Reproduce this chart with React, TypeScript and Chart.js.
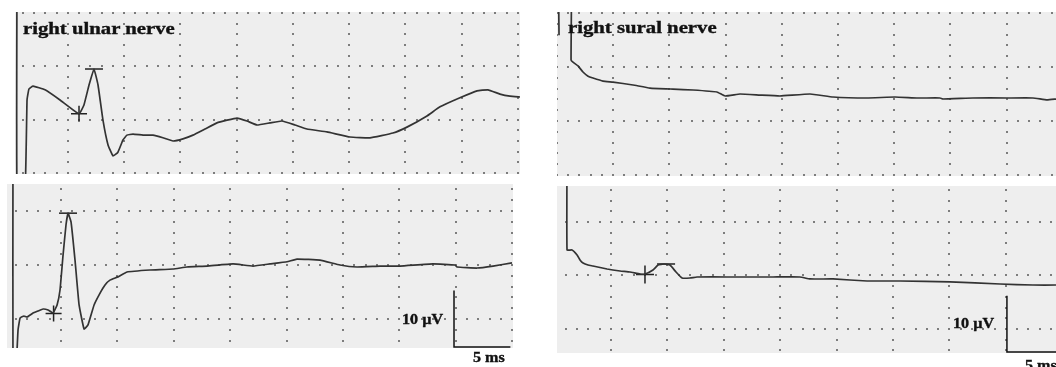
import React, { useEffect, useRef } from "react";
import { Chart, registerables } from "chart.js";

Chart.register(...registerables);

// ---- data (time in ms, amplitude in µV) ----
const ulnarTopTime = [0.47, 0.47, 1.18, 1.36, 1.53, 1.89, 2.96, 4.29, 5.98, 6.42, 6.87, 7.31, 7.67, 8.11, 8.56, 9.0, 9.44, 9.89, 10.24, 10.78, 11.67, 12.56, 13.44, 14.33, 15.22, 16.11, 17.18, 18.24, 19.13, 20.02, 20.91, 21.8, 22.96, 24.02, 25.18, 26.24, 28.02, 30.07, 31.84, 33.89, 35.13, 36.91, 38.07, 39.84, 41.36, 42.33, 43.4, 44.29, 45.18];
const ulnarTopAmp = [40, -3, -3, 13.7, 15.75, 16.3, 15.6, 13.7, 11.1, 12.75, 16.5, 19.5, 16.5, 9.9, 5.25, 3.2, 3.9, 6.2, 7.1, 7.3, 7.1, 7.1, 6.6, 6.0, 6.4, 7.1, 8.25, 9.4, 9.9, 10.3, 9.75, 9.0, 9.4, 9.75, 9.0, 8.25, 7.7, 6.75, 6.6, 7.5, 8.6, 10.7, 12.4, 14.1, 15.4, 15.6, 14.8, 14.4, 14.25];

const ulnarBottomTime = [0.74, 0.74, 1.01, 1.19, 1.37, 1.72, 1.99, 2.52, 2.96, 3.4, 3.85, 4.29, 4.65, 4.91, 5.18, 5.44, 5.62, 5.89, 6.24, 6.6, 7.04, 7.39, 7.93, 8.46, 8.9, 9.34, 10.05, 10.85, 12.89, 14.93, 16.17, 17.94, 20.25, 22.02, 23.53, 25.04, 25.92, 27.96, 29.73, 31.24, 33.28, 35.05, 37.98, 39.93, 40.11, 41.88, 43.3, 44.98];
const ulnarBottomAmp = [32, -9, -9, -2.0, 0.19, 0.56, 0.37, 1.11, 1.48, 1.85, 1.67, 1.11, 2.6, 5.37, 11.85, 17.4, 19.6, 17.96, 10.9, 2.6, -1.85, -1.1, 2.6, 4.8, 6.3, 7.2, 7.8, 8.7, 9.07, 9.26, 9.63, 9.8, 10.2, 9.8, 10.2, 10.6, 11.1, 10.9, 10.0, 9.63, 9.8, 9.8, 10.2, 10.0, 9.63, 9.44, 9.8, 10.4];

const suralTopTime = [0.2, 0.2, 1.27, 1.27, 1.44, 1.89, 2.33, 2.78, 3.22, 4.11, 5.0, 6.78, 8.29, 10.33, 12.11, 14.24, 14.96, 16.29, 18.07, 19.84, 22.51, 24.56, 27.58, 30.07, 32.02, 34.07, 34.33, 37.0, 40.02, 42.33, 43.58, 44.38];
const suralTopAmp = [25.9, 40, 40, 21.3, 20.9, 20.2, 19.07, 18.3, 17.96, 17.4, 17.2, 16.67, 16.1, 15.9, 15.74, 15.37, 14.63, 15.0, 14.8, 14.63, 15.0, 14.44, 14.26, 14.44, 14.26, 14.26, 14.07, 14.26, 14.26, 14.26, 13.9, 14.07];

const suralBottomTime = [1.1, 1.1, 1.54, 1.99, 2.25, 2.52, 2.96, 3.4, 4.65, 5.8, 6.68, 7.57, 8.01, 8.72, 9.17, 9.7, 10.23, 10.76, 11.3, 12.0, 12.62, 15.28, 17.32, 19.36, 21.75, 22.64, 24.68, 27.7, 30.62, 35.05, 39.49, 42.41, 44.45];
const suralBottomAmp = [34, 14.77, 14.77, 13.83, 12.9, 12.34, 11.96, 11.78, 11.21, 10.84, 10.65, 10.28, 10.28, 11.03, 11.96, 12.15, 11.96, 10.65, 9.53, 9.53, 9.72, 9.72, 9.72, 9.72, 9.72, 9.35, 9.35, 8.97, 8.97, 8.79, 8.41, 8.22, 8.22];

// onset (cross) and peak (bar) markers: [time, amplitude]
const ulnarTopOnset = [5.98, 11.1];
const ulnarTopPeak = [7.31, 19.5];
const ulnarBottomOnset = [4.34, 1.02];
const ulnarBottomPeak = [5.62, 19.6];
const suralBottomOnset = [8.01, 10.19];
const suralBottomPeak = [9.88, 12.15];

// calibration bars (10 µV / 5 ms)
const ulnarCalTime = [39.84, 39.84, 44.84];
const ulnarCalAmp = [5.3, -5.2, -5.2];
const suralCalTime = [40.1, 40.1, 45.1];
const suralCalAmp = [6.2, -4.3, -4.3];

const gridStepMs = 5;
const gridStepUv = 10;
const dotStepMs = 1;
const dotStepUv = 2;

const toXY = (xs: number[], ys: number[]) => xs.map((x, i) => ({ x, y: ys[i] }));

const panelBg = {
  id: "panelBg",
  beforeDraw(chart: any) {
    const { ctx, width, height } = chart;
    ctx.save();
    ctx.fillStyle = "#eeeeee";
    ctx.fillRect(0, 0, width, height);
    ctx.restore();
  },
};

const dotGrid = {
  id: "dotGrid",
  beforeDatasetsDraw(chart: any) {
    const { ctx } = chart;
    const x = chart.scales.x;
    const y = chart.scales.y;
    ctx.save();
    ctx.fillStyle = "#7d7d7d";
    const eps = 0.35;
    for (let t = Math.ceil((x.min - eps) / gridStepMs) * gridStepMs; t <= x.max + eps; t += gridStepMs) {
      const px = x.getPixelForValue(t);
      for (let v = Math.ceil((y.min - eps) / dotStepUv) * dotStepUv; v <= y.max + eps; v += dotStepUv) {
        const py = y.getPixelForValue(v);
        ctx.fillRect(Math.round(px) - 1, Math.round(py) - 1, 2, 2);
      }
    }
    for (let v = Math.ceil((y.min - eps) / gridStepUv) * gridStepUv; v <= y.max + eps; v += gridStepUv) {
      const py = y.getPixelForValue(v);
      for (let t = Math.ceil((x.min - eps) / dotStepMs) * dotStepMs; t <= x.max + eps; t += dotStepMs) {
        const px = x.getPixelForValue(t);
        ctx.fillRect(Math.round(px) - 1, Math.round(py) - 1, 2, 2);
      }
    }
    ctx.restore();
  },
};

type PanelProps = {
  left: number;
  top: number;
  width: number;
  height: number;
  xRange: number[];
  yRange: number[];
  time: number[];
  amp: number[];
  onset?: number[];
  peak?: number[];
  markerSize?: number;
  calTime?: number[];
  calAmp?: number[];
};

function Panel(p: PanelProps) {
  const ref = useRef<HTMLCanvasElement>(null);
  useEffect(() => {
    if (!ref.current) return;
    const datasets: any[] = [
      {
        data: toXY(p.time, p.amp),
        borderColor: "#333333",
        borderWidth: 1.7,
        pointRadius: 0,
        tension: 0.1,
        fill: false,
      },
    ];
    if (p.onset) {
      datasets.push({
        data: [{ x: p.onset[0], y: p.onset[1] }],
        showLine: false,
        pointStyle: "cross",
        pointRadius: p.markerSize || 8,
        pointBorderWidth: 1.5,
        pointBorderColor: "#222222",
        borderColor: "#222222",
        clip: false,
      });
    }
    if (p.peak) {
      datasets.push({
        data: [{ x: p.peak[0], y: p.peak[1] }],
        showLine: false,
        pointStyle: "line",
        pointRadius: 9,
        pointBorderWidth: 1.5,
        pointBorderColor: "#222222",
        borderColor: "#222222",
        clip: false,
      });
    }
    if (p.calTime && p.calAmp) {
      datasets.push({
        data: toXY(p.calTime, p.calAmp),
        borderColor: "#111111",
        borderWidth: 1.5,
        pointRadius: 0,
        tension: 0,
        fill: false,
      });
    }
    const chart = new Chart(ref.current, {
      type: "line",
      data: { datasets },
      options: {
        animation: false,
        responsive: false,
        devicePixelRatio: 1,
        layout: { padding: 0, autoPadding: false },
        events: [],
        plugins: { legend: { display: false }, tooltip: { enabled: false } },
        scales: {
          x: { type: "linear", min: p.xRange[0], max: p.xRange[1], display: false },
          y: { type: "linear", min: p.yRange[0], max: p.yRange[1], display: false },
        },
      },
      plugins: [panelBg, dotGrid],
    } as any);
    return () => chart.destroy();
  }, []);
  return (
    <canvas
      ref={ref}
      width={p.width}
      height={p.height}
      style={{ position: "absolute", left: p.left, top: p.top, width: p.width, height: p.height }}
    />
  );
}

const labelStyle = (left: number, top: number, size: number, sx: number): React.CSSProperties => ({
  position: "absolute",
  left,
  top,
  fontFamily: '"Liberation Serif", "Times New Roman", serif',
  fontWeight: "bold",
  fontSize: size,
  lineHeight: size + "px",
  color: "#111",
  whiteSpace: "nowrap",
  transform: `scaleX(${sx})`,
  transformOrigin: "0 0",
  WebkitTextStroke: "0.35px #111",
});

export default function App() {
  return (
    <div
      style={{
        position: "fixed",
        left: 0,
        top: 0,
        width: 1056,
        height: 367,
        background: "#ffffff",
        overflow: "hidden",
      }}
    >
      <Panel left={15} top={12} width={505} height={162} xRange={[0.29, 45.18]} yRange={[-0.19, 30.19]}
        time={ulnarTopTime} amp={ulnarTopAmp} onset={ulnarTopOnset} peak={ulnarTopPeak} />
      <Panel left={7} top={184} width={506} height={164} xRange={[0.21, 45.07]} yRange={[-5.37, 25.0]}
        time={ulnarBottomTime} amp={ulnarBottomAmp} onset={ulnarBottomOnset} peak={ulnarBottomPeak}
        calTime={ulnarCalTime} calAmp={ulnarCalAmp} />
      <Panel left={557} top={12} width={499} height={164} xRange={[0.02, 44.38]} yRange={[-0.19, 30.19]}
        time={suralTopTime} amp={suralTopAmp} />
      <Panel left={557} top={186} width={499} height={167} xRange={[0.21, 44.45]} yRange={[-4.49, 26.73]}
        time={suralBottomTime} amp={suralBottomAmp} onset={suralBottomOnset} peak={suralBottomPeak}
        markerSize={9} calTime={suralCalTime} calAmp={suralCalAmp} />

      <div style={labelStyle(23, 20, 17, 1.22)}>right ulnar nerve</div>
      <div style={labelStyle(568, 19, 17, 1.22)}>right sural nerve</div>
      <div style={labelStyle(402, 313, 14, 1.15)}>10 µV</div>
      <div style={labelStyle(473, 351, 14, 1.15)}>5 ms</div>
      <div style={labelStyle(953, 317, 14, 1.15)}>10 µV</div>
      <div style={labelStyle(1025, 359, 14, 1.15)}>5 ms</div>
    </div>
  );
}
